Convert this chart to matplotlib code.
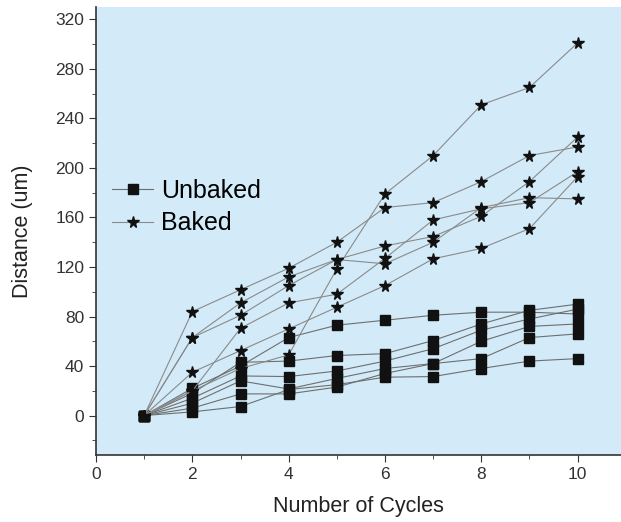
import matplotlib
matplotlib.use("Agg")
import matplotlib.pyplot as plt
from matplotlib.ticker import MultipleLocator

plt.rcParams['font.family'] = ['Liberation Sans', 'DejaVu Sans']

cycles = [1, 2, 3, 4, 5, 6, 7, 8, 9, 10]

# unbaked samples (squares)
unbaked = [
    [0, 22, 40, 63, 73, 77, 81, 83.5, 83.5, 82],
    [0, 18, 43, 44, 48.5, 50, 60.6, 74, 85, 90],
    [0, 14, 32, 31.5, 36, 44, 54, 69, 78, 86],
    [0, 10, 28, 21.5, 30, 38, 42, 60, 72, 74],
    [0, 6, 17.5, 17.5, 23, 34, 42, 46, 63, 66],
    [0, 3, 7.3, 21, 25, 31, 31.5, 38, 44, 46],
]

# baked samples (stars)
baked = [
    [0, 20, 38, 49, 118.5, 179, 210, 251, 265, 301],
    [0, 84, 101.6, 119, 140, 168, 172, 189, 210, 217],
    [0, 63, 91, 112, 126, 137, 144.6, 161, 189, 225],
    [0, 63, 81, 105, 126, 122.6, 140, 168, 176, 175],
    [0, 20, 70.5, 91, 98, 127, 158, 167, 172, 197],
    [0, 35, 52.5, 70, 87.5, 105, 126.6, 135, 151, 193],
]

fig = plt.figure(figsize=(6.21, 5.22), dpi=100)
ax = fig.add_axes([0.1546, 0.128, 0.8454, 0.8586])
ax.set_facecolor('#d3ebf8')

for i, s in enumerate(unbaked):
    ax.plot(cycles, s, color='#6e6e6e', lw=0.8, marker='s', ms=6.5,
            mfc='#111111', mec='#111111', label='Unbaked' if i == 0 else None)
for i, s in enumerate(baked):
    ax.plot(cycles, s, color='#8a8a8a', lw=0.8, marker='*', ms=8.5,
            mfc='#111111', mec='#111111', label='Baked' if i == 0 else None)

ax.set_xlim(0, 10.9)
ax.set_ylim(-32, 330)
ax.xaxis.set_major_locator(MultipleLocator(2))
ax.xaxis.set_minor_locator(MultipleLocator(1))
ax.yaxis.set_major_locator(MultipleLocator(40))
ax.yaxis.set_minor_locator(MultipleLocator(20))
ax.set_yticks([0, 40, 80, 120, 160, 200, 240, 280, 320])
ax.tick_params(which='both', direction='out', colors='#333333', labelsize=12.5)
ax.tick_params(which='major', length=5)
ax.tick_params(which='minor', length=3)
for sp in ['top', 'right']:
    ax.spines[sp].set_visible(False)
for sp in ['left', 'bottom']:
    ax.spines[sp].set_color('#333333')
    ax.spines[sp].set_linewidth(1.2)

ax.set_xlabel('Number of Cycles', fontsize=15.5, color='#222222', labelpad=10)
ax.set_ylabel('Distance (um)', fontsize=15.5, color='#222222', labelpad=16)

ax.legend(loc='upper left', bbox_to_anchor=(-0.012, 0.667), frameon=False,
          fontsize=18, handlelength=1.65, handletextpad=0.3, labelspacing=0.35)

fig.savefig('out.png', dpi=100)
